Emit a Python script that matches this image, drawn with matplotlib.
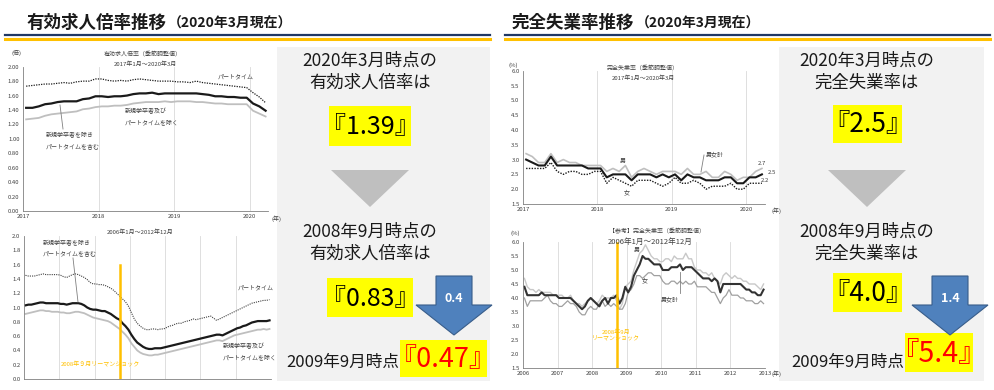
import numpy as np
import matplotlib
matplotlib.use("Agg")
import matplotlib.pyplot as plt
from matplotlib.patches import Polygon, Rectangle
from matplotlib.lines import Line2D

plt.rcParams['font.family'] = ['Noto Sans CJK JP', 'DejaVu Sans']

W, H = 994, 390

# ---- data: 有効求人倍率 2017/1-2020/3 ----
jobs_recent_start = (2017, 1)
jobs_recent_total = [1.43, 1.43, 1.45, 1.48, 1.49, 1.51, 1.52, 1.52, 1.52, 1.55, 1.56, 1.59,
                     1.59, 1.58, 1.59, 1.59, 1.60, 1.62, 1.63, 1.63, 1.64, 1.62, 1.63, 1.63,
                     1.63, 1.63, 1.63, 1.63, 1.62, 1.61, 1.59, 1.59, 1.58, 1.58, 1.57, 1.57,
                     1.49, 1.45, 1.39]
jobs_recent_part = [1.73, 1.74, 1.75, 1.76, 1.76, 1.77, 1.78, 1.77, 1.79, 1.80, 1.80, 1.83,
                    1.83, 1.81, 1.80, 1.81, 1.80, 1.82, 1.83, 1.82, 1.81, 1.80, 1.80, 1.80,
                    1.79, 1.79, 1.78, 1.80, 1.78, 1.77, 1.76, 1.75, 1.74, 1.73, 1.72, 1.71,
                    1.64, 1.58, 1.50]
jobs_recent_excl = [1.27, 1.28, 1.29, 1.32, 1.34, 1.35, 1.36, 1.37, 1.38, 1.41, 1.42, 1.44,
                    1.45, 1.45, 1.46, 1.46, 1.47, 1.49, 1.50, 1.51, 1.51, 1.51, 1.52, 1.51,
                    1.52, 1.52, 1.52, 1.51, 1.51, 1.50, 1.49, 1.49, 1.48, 1.48, 1.48, 1.48,
                    1.39, 1.35, 1.31]

# ---- data: 有効求人倍率 2006/1-2012/12 ----
jobs_past_start = (2006, 1)
jobs_past_total = [1.03, 1.04, 1.04, 1.05, 1.06, 1.07, 1.07, 1.06, 1.06, 1.06, 1.06, 1.06,
                   1.05, 1.05, 1.04, 1.05, 1.06, 1.06, 1.06, 1.05, 1.03, 1.00, 0.98, 0.97,
                   0.97, 0.96, 0.95, 0.95, 0.93, 0.91, 0.88, 0.85, 0.83, 0.78, 0.74, 0.69,
                   0.62, 0.56, 0.51, 0.48, 0.45, 0.43, 0.42, 0.42, 0.43, 0.43, 0.43, 0.44,
                   0.45, 0.46, 0.47, 0.48, 0.49, 0.50, 0.51, 0.52, 0.53, 0.54, 0.55, 0.56,
                   0.57, 0.58, 0.59, 0.60, 0.61, 0.62, 0.62, 0.61, 0.63, 0.65, 0.67, 0.69,
                   0.71, 0.72, 0.74, 0.75, 0.77, 0.79, 0.80, 0.81, 0.81, 0.81, 0.81, 0.82]
jobs_past_part = [1.45, 1.44, 1.44, 1.44, 1.45, 1.46, 1.47, 1.46, 1.46, 1.46, 1.46, 1.46,
                  1.45, 1.43, 1.42, 1.44, 1.46, 1.47, 1.46, 1.44, 1.42, 1.39, 1.35, 1.33,
                  1.33, 1.32, 1.32, 1.31, 1.29, 1.27, 1.24, 1.20, 1.16, 1.12, 1.08, 1.02,
                  0.93, 0.84, 0.78, 0.74, 0.71, 0.69, 0.69, 0.70, 0.70, 0.69, 0.70, 0.70,
                  0.72, 0.74, 0.75, 0.77, 0.78, 0.78, 0.80, 0.81, 0.82, 0.84, 0.83, 0.84,
                  0.85, 0.86, 0.87, 0.88, 0.85, 0.82, 0.84, 0.86, 0.88, 0.90, 0.92, 0.94,
                  0.96, 0.98, 1.00, 1.02, 1.04, 1.06, 1.07, 1.08, 1.09, 1.10, 1.10, 1.11]
jobs_past_excl = [0.91, 0.92, 0.93, 0.94, 0.95, 0.96, 0.96, 0.95, 0.95, 0.94, 0.94, 0.94,
                  0.93, 0.93, 0.92, 0.92, 0.93, 0.94, 0.94, 0.93, 0.92, 0.90, 0.88, 0.86,
                  0.85, 0.84, 0.83, 0.82, 0.81, 0.79, 0.76, 0.73, 0.70, 0.66, 0.62, 0.57,
                  0.50, 0.45, 0.40, 0.37, 0.35, 0.34, 0.33, 0.33, 0.34, 0.34, 0.35, 0.36,
                  0.37, 0.38, 0.39, 0.40, 0.41, 0.42, 0.43, 0.44, 0.45, 0.46, 0.47, 0.48,
                  0.49, 0.50, 0.51, 0.52, 0.53, 0.54, 0.54, 0.53, 0.55, 0.57, 0.59, 0.61,
                  0.62, 0.63, 0.64, 0.65, 0.66, 0.67, 0.68, 0.69, 0.69, 0.70, 0.69, 0.70]

# ---- data: 完全失業率 2017/1-2020/3 ----
unemp_recent_total = [3.0, 2.9, 2.8, 2.8, 3.1, 2.8, 2.8, 2.8, 2.8, 2.8, 2.7, 2.7,
                      2.7, 2.4, 2.5, 2.5, 2.5, 2.3, 2.5, 2.5, 2.5, 2.4, 2.5, 2.4,
                      2.5, 2.3, 2.5, 2.4, 2.4, 2.3, 2.3, 2.3, 2.4, 2.4, 2.2, 2.2,
                      2.4, 2.4, 2.5]
unemp_recent_men = [3.2, 3.1, 2.9, 2.9, 3.2, 2.9, 3.0, 2.9, 2.9, 2.8, 2.8, 2.8,
                    2.8, 2.6, 2.7, 2.6, 2.8, 2.4, 2.6, 2.7, 2.6, 2.5, 2.6, 2.6,
                    2.6, 2.5, 2.7, 2.5, 2.5, 2.6, 2.4, 2.4, 2.6, 2.5, 2.3, 2.4,
                    2.4, 2.6, 2.7]
unemp_recent_women = [2.7, 2.7, 2.7, 2.7, 2.9, 2.6, 2.5, 2.6, 2.6, 2.5, 2.5, 2.6,
                      2.6, 2.2, 2.4, 2.3, 2.2, 2.1, 2.3, 2.3, 2.3, 2.2, 2.1, 2.2,
                      2.4, 2.2, 2.2, 2.3, 2.2, 2.0, 2.1, 2.1, 2.1, 2.2, 2.0, 2.0,
                      2.2, 2.2, 2.2]

# ---- data: 完全失業率 2006/1-2012/12 ----
unemp_past_total = [4.4, 4.1, 4.1, 4.1, 4.1, 4.1, 4.2, 4.1, 4.1, 4.1, 4.1, 4.1,
                    4.0, 4.0, 4.0, 4.0, 4.0, 3.9, 3.8, 3.7, 3.6, 3.7, 3.9, 4.0,
                    3.9, 3.8, 3.7, 3.9, 4.0, 3.8, 4.0, 4.0, 4.1, 3.8, 4.0, 4.4,
                    4.2, 4.4, 4.8, 5.0, 5.2, 5.5, 5.4, 5.4, 5.3, 5.2, 5.2, 5.2,
                    5.0, 5.0, 5.0, 5.1, 5.1, 5.1, 5.2, 5.0, 5.1, 5.1, 5.1, 5.0,
                    4.9, 4.8, 4.7, 4.7, 4.7, 4.6, 4.7, 4.6, 4.2, 4.5, 4.5, 4.5,
                    4.5, 4.5, 4.5, 4.5, 4.4, 4.3, 4.3, 4.2, 4.2, 4.1, 4.1, 4.3]
unemp_past_men = [4.7, 4.4, 4.3, 4.3, 4.2, 4.3, 4.2, 4.2, 4.2, 4.2, 4.1, 4.1,
                  4.1, 4.1, 4.0, 4.0, 4.1, 3.9, 3.8, 3.8, 3.7, 3.8, 3.9, 4.0,
                  3.9, 3.8, 3.9, 4.1, 4.0, 4.0, 4.0, 4.1, 3.9, 3.6, 3.8, 4.4,
                  4.5, 4.6, 5.0, 5.3, 5.6, 5.7, 5.9, 5.7, 5.5, 5.4, 5.4, 5.3,
                  5.3, 5.4, 5.4, 5.3, 5.5, 5.4, 5.4, 5.4, 5.6, 5.4, 5.4, 5.1,
                  5.0, 5.0, 4.9, 4.9, 4.8, 4.9, 4.7, 4.6, 4.5, 4.8, 4.9, 4.8,
                  4.7, 4.8, 4.7, 4.7, 4.6, 4.6, 4.5, 4.5, 4.5, 4.4, 4.3, 4.5]
unemp_past_women = [4.0, 3.7, 3.9, 3.9, 3.9, 3.9, 3.9, 4.0, 4.1, 3.9, 3.8, 3.8,
                    3.7, 3.7, 3.8, 3.9, 3.8, 3.8, 3.7, 3.5, 3.4, 3.4, 3.6, 3.7,
                    3.6, 3.6, 3.8, 3.9, 3.7, 3.8, 3.7, 3.8, 3.7, 3.6, 3.6, 3.8,
                    4.2, 4.3, 4.5, 4.8, 4.8, 4.7, 4.8, 4.9, 4.9, 4.8, 4.8, 4.8,
                    4.6, 4.5, 4.5, 4.6, 4.6, 4.5, 4.6, 4.5, 4.6, 4.5, 4.5, 4.6,
                    4.4, 4.4, 4.4, 4.4, 4.3, 4.2, 4.2, 4.0, 3.8, 4.0, 4.1, 4.3,
                    4.1, 4.1, 4.1, 4.0, 4.0, 3.9, 3.9, 3.9, 3.8, 3.8, 3.9, 3.8]

lehman = (2008, 9)

# ---- summary text ----
jobs_now, jobs_2008, jobs_2009 = "1.39", "0.83", "0.47"
unemp_now, unemp_2008, unemp_2009 = "2.5", "4.0", "5.4"
jobs_diff, unemp_diff = "0.4", "1.4"


def month_x(start, n):
    y, m = start
    return y + (m - 1 + 0.5) / 12 + np.arange(n) / 12


def fx(px):
    return px / W


def fy(py):
    return 1 - py / H


def ax_at(x0, y0, x1, y1):
    return fig.add_axes([fx(x0), fy(y1), (x1 - x0) / W, (y1 - y0) / H])


def ptext(px, py, s, **kw):
    kw.setdefault('color', '#404040')
    kw.setdefault('fontsize', 4.3)
    return fig.text(fx(px), fy(py), s, **kw)


def pline(xs, ys, **kw):
    fig.add_artist(Line2D([fx(x) for x in xs], [fy(y) for y in ys],
                          transform=fig.transFigure, **kw))


def prect(x0, y0, x1, y1, **kw):
    fig.add_artist(Rectangle((fx(x0), fy(y1)), (x1 - x0) / W, (y1 - y0) / H,
                             transform=fig.transFigure, **kw))


def style_axes(ax, xlim, ylim, yticks, yfmt, xlabels=True):
    ax.set_xlim(*xlim)
    ax.set_ylim(*ylim)
    for s in ['top', 'right']:
        ax.spines[s].set_visible(False)
    for s in ['left', 'bottom']:
        ax.spines[s].set_color('#808080')
        ax.spines[s].set_linewidth(0.6)
    years = np.arange(int(np.ceil(xlim[0])), int(xlim[1]) + 1)
    ax.set_xticks(years)
    ax.set_xticklabels([str(y) for y in years] if xlabels else [])
    ax.set_yticks(yticks)
    ax.set_yticklabels([yfmt.format(v) for v in yticks])
    ax.tick_params(length=0, labelsize=4.3, labelcolor='#404040', pad=2.5)
    for y in years[1:]:
        ax.axvline(y, color='#d9d9d9', lw=0.6, zorder=0)
    ax.patch.set_alpha(0)


fig = plt.figure(figsize=(W / 100, H / 100), dpi=100)
fig.patch.set_facecolor('white')
renderer = fig.canvas.get_renderer()

# ---- section titles ----
for x0, x1, tx, title in [(5, 490, 27, '有効求人倍率推移'), (505, 990, 512, '完全失業率推移')]:
    pline([x0, x1], [35, 35], color='#1f3864', lw=1.6)
    pline([x0, x1], [39, 39], color='#ffc000', lw=2.2)
    t = ptext(tx, 23, title, fontsize=12.6, fontweight='bold', color='#1a1a1a', va='center')
    bb = t.get_window_extent(renderer)
    ptext(bb.x1 + 1, 24, '（2020年3月現在）', fontsize=10, fontweight='bold',
          color='#1a1a1a', va='center')

# ---- top left: 有効求人倍率 2017-2020 ----
ax = ax_at(23, 66.7, 268, 211)
x = month_x(jobs_recent_start, len(jobs_recent_total))
ax.plot(x, jobs_recent_excl, color='#bfbfbf', lw=1.3)
ax.plot(x, jobs_recent_part, color='#1a1a1a', lw=0.9, ls=(0, (1, 1)))
ax.plot(x, jobs_recent_total, color='#1a1a1a', lw=1.6)
style_axes(ax, (2017, 2020.24), (0, 2.0), np.arange(0, 2.01, 0.2), '{:.2f}')
ptext(11, 53, '(倍)', ha='left', va='center')
ptext(143, 53, '有効求人倍率（季節調整値）', ha='center', va='center')
ptext(145, 64, '2017年1月～2020年3月', ha='center', va='center')
ptext(276, 219, '(年)', ha='center', va='center')
ptext(218, 77, 'パートタイム', ha='left', va='center')
ptext(125, 111, '新規学卒者及び', ha='left', va='center')
ptext(125, 122, 'パートタイムを除く', ha='left', va='center')
ptext(46, 134, '新規学卒者を除き', ha='left', va='center')
ptext(46, 146, 'パートタイムを含む', ha='left', va='center')
pline([60, 63], [105, 129], color='#808080', lw=0.6)

# ---- bottom left: 有効求人倍率 2006-2012 ----
ax = ax_at(24, 236, 271, 379)
x = month_x(jobs_past_start, len(jobs_past_total))
ax.plot(x, jobs_past_excl, color='#bfbfbf', lw=1.3)
ax.plot(x, jobs_past_part, color='#404040', lw=0.8, ls=(0, (1, 1)))
ax.plot(x, jobs_past_total, color='#1a1a1a', lw=1.6)
style_axes(ax, (2006, 2013), (0, 2.0), np.arange(0, 2.01, 0.2), '{:.1f}', xlabels=False)
lx = month_x(lehman, 1)[0]
ax.plot([lx, lx], [0, 1.6], color='#ffc000', lw=1.8, zorder=5)
ptext(140, 232, '2006年1月～2012年12月', ha='center', va='center')
ptext(43, 242, '新規学卒者を除き', ha='left', va='center')
ptext(43, 253, 'パートタイムを含む', ha='left', va='center')
pline([73, 78], [258, 302], color='#808080', lw=0.6)
ptext(238, 288, 'パートタイム', ha='left', va='center')
ptext(223, 346, '新規学卒者及び', ha='left', va='center')
ptext(223, 357, 'パートタイムを除く', ha='left', va='center')
ptext(100, 364, '2008年９月リーマンショック', ha='center', va='center', color='#ffc000')

# ---- top right: 完全失業率 2017-2020 ----
ax = ax_at(523, 70.7, 765, 204)
x = month_x(jobs_recent_start, len(unemp_recent_total))
ax.plot(x, unemp_recent_men, color='#bfbfbf', lw=1.2)
ax.plot(x, unemp_recent_women, color='#1a1a1a', lw=1.0, ls=(0, (1, 1)))
ax.plot(x, unemp_recent_total, color='#1a1a1a', lw=1.5)
style_axes(ax, (2017, 2020.25), (1.5, 6.0), np.arange(1.5, 6.01, 0.5), '{:.1f}')
ptext(513, 65, '(%)', ha='center', va='center')
ptext(643, 67, '完全失業率（季節調整値）', ha='center', va='center')
ptext(643, 78, '2017年1月～2020年3月', ha='center', va='center')
ptext(623, 161, '男', ha='center', va='center')
ptext(627, 192, '女', ha='center', va='center')
ptext(706, 154, '男女計', ha='left', va='center')
pline([704, 701], [155, 172], color='#808080', lw=0.6)
ptext(762, 163, unemp_recent_men[-1], ha='center', va='center')
ptext(772, 173, unemp_recent_total[-1], ha='center', va='center')
ptext(765, 180, unemp_recent_women[-1], ha='center', va='center')
ptext(776, 211, '(年)', ha='center', va='center')

# ---- bottom right: 完全失業率 2006-2012 ----
ax = ax_at(523, 242, 765, 368)
x = month_x(jobs_past_start, len(unemp_past_total))
ax.plot(x, unemp_past_men, color='#c8c8c8', lw=1.0)
ax.plot(x, unemp_past_women, color='#a0a0a0', lw=0.9)
ax.plot(x, unemp_past_total, color='#333333', lw=1.5)
style_axes(ax, (2006, 2013), (1.5, 6.0), np.arange(1.5, 6.01, 0.5), '{:.1f}')
ax.plot([lx, lx], [1.5, 5.95], color='#ffc000', lw=1.8, zorder=5)
ptext(515, 233, '(%)', ha='center', va='center')
ptext(657, 231, '【参考】完全失業率（季節調整値）', ha='center', va='center')
ptext(650, 242, '2006年1月～2012年12月', ha='center', va='center', fontsize=5.5)
ptext(637, 250, '男', ha='center', va='center')
ptext(645, 280, '女', ha='center', va='center')
ptext(670, 299, '男女計', ha='center', va='center')
pline([680, 680], [272, 293], color='#808080', lw=0.6)
ptext(616, 332, '2008年9月', ha='center', va='center', color='#ffc000')
ptext(616, 339, 'リーマンショック', ha='center', va='center', color='#ffc000')
ptext(776, 374, '(年)', ha='center', va='center')


# ---- summary panels ----
def summary(px0, px1, cx, label, now, past, after, diff, arrow_cx, boxes, big):
    prect(px0, 47, px1, 381, fc='#f2f2f2', ec='none', zorder=-1)
    tc = '#1a1a1a'
    ptext(cx, 61, '2020年3月時点の', ha='center', va='center', fontsize=12.5, color=tc)
    ptext(cx, 83, label, ha='center', va='center', fontsize=12.5, color=tc)
    ptext(cx, 232, '2008年9月時点の', ha='center', va='center', fontsize=12.5, color=tc)
    ptext(cx, 254, label, ha='center', va='center', fontsize=12.5, color=tc)
    for (bx0, by0, bx1, by1), val, col, fs in zip(boxes, [now, past, after],
                                                   ['#000000', '#000000', '#ff0000'],
                                                   [big, big, big + 1.5]):
        prect(bx0, by0, bx1, by1, fc='#ffff00', ec='none')
        ptext((bx0 + bx1) / 2, (by0 + by1) / 2 + 1, '『' + val + '』', ha='center', va='center',
              fontsize=fs, color=col)
    fig.add_artist(Polygon([(fx(cx - 39), fy(170)), (fx(cx + 39), fy(170)), (fx(cx), fy(207))],
                           closed=True, transform=fig.transFigure, fc='#bfbfbf', ec='none'))
    a = arrow_cx
    pts = [(a - 18, 276), (a + 18, 276), (a + 18, 305), (a + 38, 305), (a, 335),
           (a - 38, 305), (a - 18, 305)]
    fig.add_artist(Polygon([(fx(p), fy(q)) for p, q in pts], closed=True,
                           transform=fig.transFigure, fc='#4f81bd', ec='#385d8a', lw=0.8))
    ptext(a, 299, diff, ha='center', va='center', fontsize=9, fontweight='bold', color='white')
    ptext(boxes[2][0] - 1, 362, '2009年9月時点', ha='right', va='center', fontsize=12, color=tc)


summary(277, 490, 370, '有効求人倍率は', jobs_now, jobs_2008, jobs_2009, jobs_diff, 454,
        [(329, 106, 411, 146), (327, 278, 413, 317), (400, 340, 487, 377)], 18)
summary(779, 984, 867, '完全失業率は', unemp_now, unemp_2008, unemp_2009, unemp_diff, 950,
        [(833, 105, 902, 143), (833, 273, 902, 312), (905, 333, 973, 372)], 19)

fig.savefig('out.png', dpi=100)
